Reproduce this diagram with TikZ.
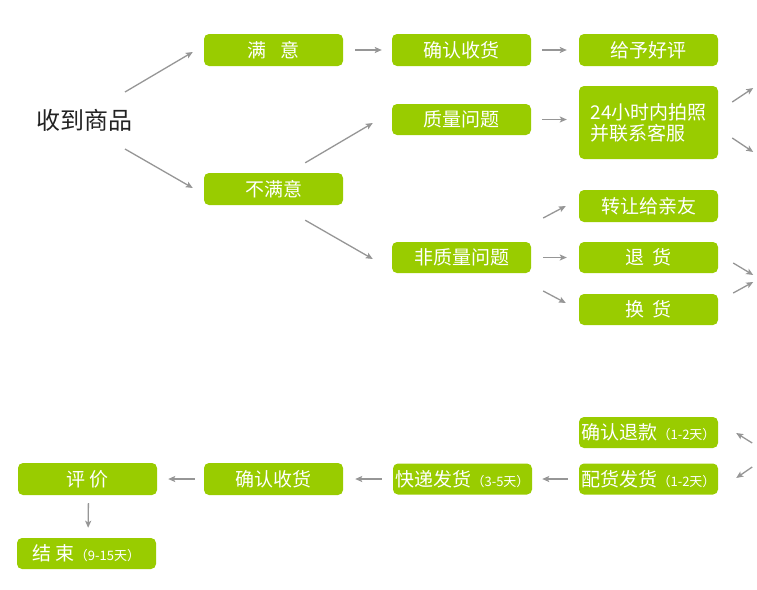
\documentclass[tikz,border=0pt]{standalone}
\usepackage{fontspec}
\setmainfont{Noto Sans CJK SC}
\usetikzlibrary{arrows.meta,calc}
\definecolor{boxgreen}{RGB}{153,204,0}
\definecolor{arrgray}{RGB}{150,150,150}
\definecolor{txtdark}{RGB}{34,34,34}
\newcommand{\smtxt}[1]{{\fontsize{13}{15}\selectfont #1}}
\begin{document}
\begin{tikzpicture}[x=1pt,y=-1pt,
  gbox/.style={fill=boxgreen, rounded corners=5pt, minimum width=139pt, minimum height=32pt,
    inner sep=0pt, text=white, font=\fontsize{19}{21}\selectfont},
  arr/.style={draw=arrgray, line width=1.3pt, -{Stealth[length=7pt,width=6pt,inset=1.5pt]}}]
\useasboundingbox (0,0) rectangle (757,589);

% nodes
\node[text=txtdark, font=\fontsize{24}{28}\selectfont, inner sep=0pt] (shoudao) at (84.5,120) {收到商品};
\node[gbox] (manyi) at (273.5,50) {满\hspace{15pt}意};
\node[gbox] (bumanyi) at (273.5,189) {不满意};
\node[gbox] (queren1) at (461.5,50) {确认收货};
\node[gbox] (haoping) at (648.5,50) {给予好评};
\node[gbox, minimum height=31pt] (zhiliang) at (461.5,119.5) {质量问题};
\node[gbox, minimum height=73pt, align=left] (paizhao) at (648.5,122.5) {24小时内拍照\\并联系客服};
\node[gbox, minimum height=31pt] (feizhiliang) at (461.5,257.5) {非质量问题};
\node[gbox] (zhuanrang) at (648.5,206) {转让给亲友};
\node[gbox, minimum height=31pt] (tuihuo) at (648.5,257.5) {退\hspace{8pt}货};
\node[gbox, minimum height=31pt] (huanhuo) at (648.5,309.5) {换\hspace{8pt}货};
\node[gbox, minimum height=31pt] (tuikuan) at (648.5,432.5) {确认退款\smtxt{（1-2天）}};
\node[gbox, minimum height=31pt] (peihuo) at (648.5,479) {配货发货\smtxt{（1-2天）}};
\node[gbox, minimum height=31pt] (kuaidi) at (462.5,479) {快递发货\smtxt{（3-5天）}};
\node[gbox] (queren2) at (273.5,479) {确认收货};
\node[gbox] (pingjia) at (87.5,479) {评\hspace{5pt}价};
\node[gbox, minimum height=31pt] (jieshu) at (86.5,553.5) {结\hspace{4pt}束\smtxt{（9-15天）}};

% free ends at the right edge
\coordinate (r1) at ([shift={(35,-34.5)}]paizhao.east);
\coordinate (r2) at ([shift={(35,29.5)}]paizhao.east);
\coordinate (r3) at ([shift={(35,17.5)}]tuihuo.east);
\coordinate (r4) at ([shift={(35,-27.5)}]huanhuo.east);
\coordinate (r5) at ([shift={(34,10.5)}]tuikuan.east);
\coordinate (r6) at ([shift={(34,-12)}]peihuo.east);

% connectors
\draw[arr] ([shift={(40.5,-28)}]shoudao.center) -- ([shift={(-11,2)}]manyi.west);
\draw[arr] ([shift={(40.5,29)}]shoudao.center) -- ([shift={(-11,-1)}]bumanyi.west);
\draw[arr, shorten <=12pt, shorten >=10pt] (manyi) -- (queren1);
\draw[arr, shorten <=11pt, shorten >=12pt] (queren1) -- (haoping);
\draw[arr] ([shift={(-38,-10)}]bumanyi.north east) -- ([shift={(-19,3.5)}]zhiliang.west);
\draw[arr] ([shift={(-38,15)}]bumanyi.south east) -- ([shift={(-19,1.5)}]feizhiliang.west);
\draw[arr, shorten <=11pt, shorten >=12pt] (zhiliang) -- (zhiliang -| paizhao.west);
\draw[arr] ([shift={(12,-39.5)}]feizhiliang.east) -- ([shift={(-13,0)}]zhuanrang.west);
\draw[arr, shorten <=12pt, shorten >=12pt] (feizhiliang) -- (tuihuo);
\draw[arr] ([shift={(12,33.5)}]feizhiliang.east) -- ([shift={(-13,-6.5)}]huanhuo.west);
\draw[arr] ([shift={(14,-20.5)}]paizhao.east) -- (r1);
\draw[arr] ([shift={(14,15.5)}]paizhao.east) -- (r2);
\draw[arr] ([shift={(15,5.5)}]tuihuo.east) -- (r3);
\draw[arr] ([shift={(15,-16.5)}]huanhuo.east) -- (r4);
\draw[arr] (r5) -- ([shift={(18,0.5)}]tuikuan.east);
\draw[arr] (r6) -- ([shift={(18,-1)}]peihuo.east);
\draw[arr, shorten <=11pt, shorten >=10pt] (peihuo) -- (kuaidi);
\draw[arr, shorten <=11pt, shorten >=12pt] (kuaidi) -- (queren2);
\draw[arr, shorten <=9pt, shorten >=11pt] (queren2) -- (pingjia);
\draw[arr, shorten <=8pt, shorten >=10pt] ([xshift=1pt]pingjia.south) -- ([xshift=1.5pt]jieshu.north);
\end{tikzpicture}
\end{document}
